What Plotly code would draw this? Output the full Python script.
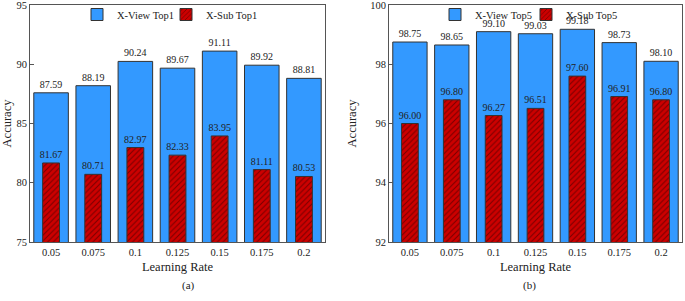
import plotly.graph_objects as go
from plotly.subplots import make_subplots

learning_rates = ["0.05", "0.075", "0.1", "0.125", "0.15", "0.175", "0.2"]
xview_top1 = [87.59, 88.19, 90.24, 89.67, 91.11, 89.92, 88.81]
xsub_top1 = [81.67, 80.71, 82.97, 82.33, 83.95, 81.11, 80.53]
xview_top5 = [98.75, 98.65, 99.10, 99.03, 99.18, 98.73, 98.10]
xsub_top5 = [96.00, 96.80, 96.27, 96.51, 97.60, 96.91, 96.80]

FONT = "Liberation Serif, Times New Roman, serif"
BLUE = "#3399FF"
RED = "#CC0000"
EDGE = "#333333"
AXC = "#555555"
TXT = "#222222"

fig = make_subplots(rows=1, cols=2, horizontal_spacing=0.0)

def add_pair(col, blue_vals, red_vals, blue_name, red_name, leg_b, leg_r):
    fig.add_trace(go.Bar(
        x=learning_rates, y=blue_vals, name=blue_name, width=0.82,
        marker=dict(color=BLUE, line=dict(color=EDGE, width=1)),
        text=[f"{v:.2f}" for v in blue_vals], textposition="outside",
        textfont=dict(family=FONT, size=10, color=TXT),
        constraintext="none", cliponaxis=False, legend=leg_b, showlegend=True,
    ), row=1, col=col)
    fig.add_trace(go.Bar(
        x=learning_rates, y=red_vals, name=red_name, width=0.4,
        marker=dict(color=RED, line=dict(color=EDGE, width=1),
                    pattern=dict(shape="/", fgcolor="#220000", bgcolor=RED,
                                 size=4, solidity=0.25)),
        text=[f"{v:.2f}" for v in red_vals], textposition="outside",
        textfont=dict(family=FONT, size=10, color=TXT),
        constraintext="none", cliponaxis=False, legend=leg_r, showlegend=True,
    ), row=1, col=col)

add_pair(1, xview_top1, xsub_top1, "X-View Top1", "X-Sub Top1", "legend", "legend2")
add_pair(2, xview_top5, xsub_top5, "X-View Top5", "X-Sub Top5", "legend3", "legend4")

W, H = 685, 301
ml, mr, mt, mb = 30, 3, 5, 59
pw = W - ml - mr
ph = H - mt - mb
def px(x):
    return (x - ml) / pw
def py(y):
    return (H - mb - y) / ph

def leg(text_start):
    return dict(orientation="h", yanchor="top", y=py(0), xanchor="left",
                x=px(text_start - 40),
                font=dict(family=FONT, size=10.5, color=TXT), bgcolor="rgba(0,0,0,0)",
                borderwidth=0, itemwidth=30)

fig.update_layout(
    width=W, height=H, barmode="overlay", showlegend=True,
    margin=dict(l=ml, r=mr, t=mt, b=mb, autoexpand=False),
    paper_bgcolor="white", plot_bgcolor="white",
    font=dict(family=FONT, size=10, color=TXT),
    legend=leg(117), legend2=leg(206), legend3=leg(475), legend4=leg(566),
    annotations=[
        dict(text="(a)", x=px(180), y=py(294), xref="paper", yref="paper",
             showarrow=False, font=dict(family=FONT, size=11, color=TXT)),
        dict(text="(b)", x=px(538), y=py(294), xref="paper", yref="paper",
             showarrow=False, font=dict(family=FONT, size=11, color=TXT)),
    ],
)

xdom1 = [0, px(325)]
xdom2 = [px(389), 1]
for i, dom in [(1, xdom1), (2, xdom2)]:
    fig.update_xaxes(domain=dom, showline=True, linecolor=AXC, linewidth=1, mirror=True,
                     ticks="", showgrid=False, automargin=False,
                     tickfont=dict(family=FONT, size=10.5, color=TXT),
                     title=dict(text="Learning Rate", font=dict(family=FONT, size=12.5, color=TXT),
                                standoff=5),
                     row=1, col=i)

fig.update_yaxes(range=[75, 95], dtick=5, row=1, col=1)
fig.update_yaxes(range=[92, 100], dtick=2, row=1, col=2)
fig.update_yaxes(showline=True, linecolor=AXC, linewidth=1, mirror=True, automargin=False,
                 ticks="inside", ticklen=4, tickcolor=AXC, showgrid=False, zeroline=False,
                 ticklabeloverflow="allow",
                 tickfont=dict(family=FONT, size=10.5, color=TXT),
                 title=dict(text="Accuracy", font=dict(family=FONT, size=12.5, color=TXT),
                            standoff=10))

fig.write_html("out.html", post_script="document.body.style.margin='0';",
               config={"displayModeBar": False})
